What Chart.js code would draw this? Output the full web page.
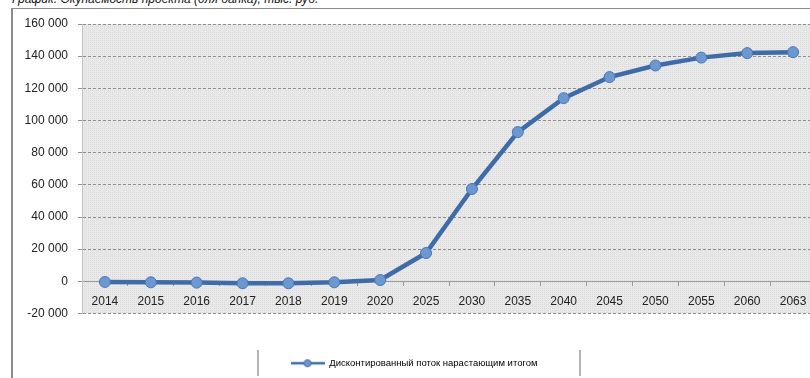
<!DOCTYPE html>
<html>
<head>
<meta charset="utf-8">
<script src="https://cdn.jsdelivr.net/npm/chart.js@4"></script>
<style>
  html, body { margin: 0; padding: 0; background: #fff; overflow: hidden; }
  body { width: 810px; height: 378px; position: relative; font-family: "Liberation Sans", Arial, sans-serif; }
  #title { position: absolute; left: 12px; top: -8px; font-size: 12px; font-style: italic; color: #111; line-height: 14px; white-space: nowrap; }
  #frame { position: absolute; left: 11px; top: 8px; width: 900px; height: 500px; border: 1px solid #8c8c8c; border-left-width: 2px; }
  .sep { position: absolute; top: 350px; width: 2px; height: 26px; background: #b4b4b4; }
  #wrap { position: absolute; left: 0; top: 0; width: 830px; height: 378px; }
</style>
</head>
<body>
<div id="title">График. Окупаемость проекта (для банка), тыс. руб.</div>
<div id="frame"></div>
<div class="sep" style="left:257px"></div>
<div class="sep" style="left:579px"></div>
<div id="wrap"><canvas id="chart"></canvas></div>
<script>
const years = ["2014", "2015", "2016", "2017", "2018", "2019", "2020", "2025", "2030",
  "2035", "2040", "2045", "2050", "2055", "2060", "2063"];
const cumulativeFlow = [-400, -600, -800, -1200, -1200, -600, 800, 17600, 57400,
  92800, 113900, 127000, 134200, 139100, 141900, 142500];
const seriesLabel = "Дисконтированный поток нарастающим итогом";

// мелкая "сетка" фона как в Excel
const pat = document.createElement("canvas");
pat.width = 2; pat.height = 2;
const pctx = pat.getContext("2d");
pctx.fillStyle = "#e9e9e9"; pctx.fillRect(0, 0, 2, 2);
pctx.fillStyle = "#dcdcdc"; pctx.fillRect(0, 0, 1, 1);

// значок легенды: линия с маркером
const legendIcon = document.createElement("canvas");
legendIcon.width = 34; legendIcon.height = 10;
const lctx = legendIcon.getContext("2d");
lctx.strokeStyle = "#3f6ca8"; lctx.lineWidth = 2.5;
lctx.beginPath(); lctx.moveTo(0, 5); lctx.lineTo(34, 5); lctx.stroke();
lctx.fillStyle = "#6b98d0"; lctx.strokeStyle = "#3f6ca8"; lctx.lineWidth = 1;
lctx.beginPath(); lctx.arc(17, 5, 3.5, 0, Math.PI * 2); lctx.fill(); lctx.stroke();

const plotBg = {
  id: "plotBg",
  beforeDraw(chart) {
    const a = chart.chartArea;
    const ctx = chart.ctx;
    ctx.save();
    ctx.fillStyle = ctx.createPattern(pat, "repeat");
    ctx.fillRect(a.left, a.top, a.right - a.left, a.bottom - a.top);
    ctx.restore();
  }
};

function fmt(v) {
  const s = Math.abs(v).toString().replace(/\B(?=(\d{3})+(?!\d))/g, " ");
  return (v < 0 ? "-" : "") + s;
}

new Chart(document.getElementById("chart"), {
  type: "line",
  data: {
    labels: years,
    datasets: [{
      label: seriesLabel,
      data: cumulativeFlow,
      borderColor: "#3f6ca8",
      borderWidth: 4.5,
      pointRadius: 5.5,
      pointBackgroundColor: "#6b98d0",
      pointBorderColor: "#4a78b5",
      pointBorderWidth: 1,
      pointStyle: "circle",
      tension: 0,
      fill: false
    }]
  },
  options: {
    responsive: true,
    maintainAspectRatio: false,
    animation: false,
    layout: { padding: { top: 24, right: 14, left: 12, bottom: 0 } },
    plugins: {
      legend: {
        position: "bottom",
        labels: {
          usePointStyle: true,
          pointStyleWidth: 34,
          color: "#333",
          font: { size: 9.5, family: "Liberation Sans" },
          padding: 12,
          generateLabels: (chart) => [{
            text: seriesLabel,
            pointStyle: legendIcon,
            fillStyle: "#6b98d0",
            strokeStyle: "#3f6ca8",
            lineWidth: 0,
            datasetIndex: 0
          }]
        }
      },
      tooltip: { enabled: false }
    },
    scales: {
      x: {
        type: "category",
        position: { y: 0 },
        offset: true,
        grid: {
          offset: true,
          drawOnChartArea: false,
          drawTicks: true,
          tickLength: 4,
          color: "#9a9a9a"
        },
        border: { display: true, color: "#9a9a9a", width: 1 },
        ticks: {
          color: "#222",
          font: { size: 12, family: "Liberation Sans" },
          padding: 9,
          maxRotation: 0,
          autoSkip: false
        }
      },
      // пустая ось снизу — только чтобы оставить место между графиком и легендой
      spacer: {
        type: "category",
        position: "bottom",
        grid: { display: false },
        border: { display: false },
        ticks: { display: false },
        afterFit: (s) => { s.height = 33; }
      },
      y: {
        min: -20000,
        max: 160000,
        afterFit: (s) => { s.width = 70; },
        grid: {
          color: "#8f8f8f",
          tickLength: 4,
          drawTicks: true
        },
        border: { display: true, color: "#c4c4c4", dash: [3, 2] },
        ticks: {
          stepSize: 20000,
          color: "#222",
          padding: 10,
          font: { size: 12, family: "Liberation Sans" },
          callback: (v) => fmt(v)
        }
      }
    }
  },
  plugins: [plotBg]
});
</script>
</body>
</html>
